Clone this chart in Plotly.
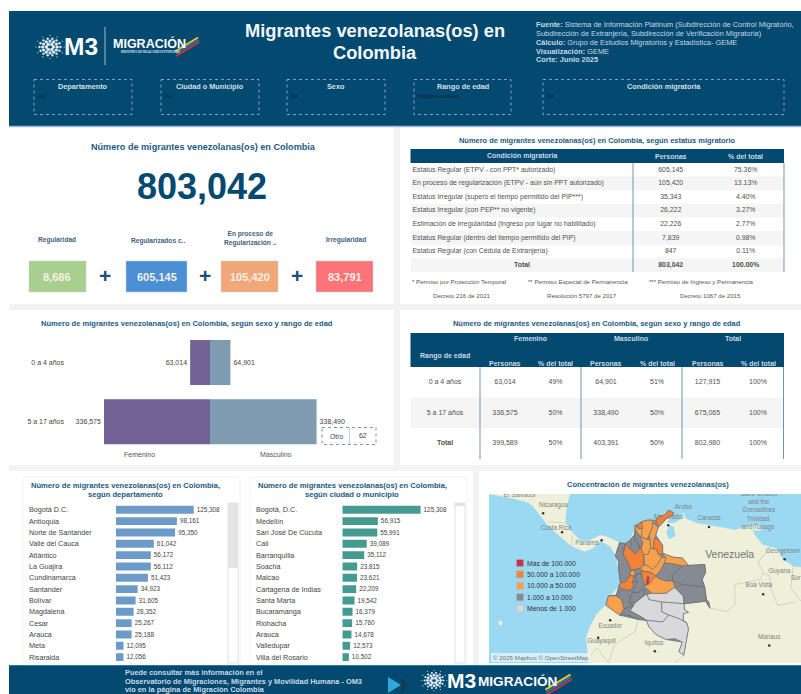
import math
import plotly.graph_objects as go

W, H = 801, 694
FONT = "Liberation Sans"
NAVY = "#04496f"
TITLE = "#1c5a80"
GUT = "#f3f3f3"

# ---------- data ----------
kpi_total = "803,042"
kpi_labels = ["Regularidad", "Regularizados c..", "En proceso de<br>Regularización ..", "Irregularidad"]
kpi_values = ["8,686", "605,145", "105,420", "83,791"]
kpi_colors = ["#a9cf8f", "#4b8fd5", "#f2a778", "#fc7479"]

status_header = ["Condición migratoria", "Personas", "% del total"]
status_names = ["Estatus Regular (ETPV - con PPT* autorizado)",
                "En proceso de regularización (ETPV - aún sin PPT autorizado)",
                "Estatus Irregular (superó el tiempo permitido del PIP***)",
                "Estatus Irregular (con PEP** no vigente)",
                "Estimación de irregularidad (Ingreso por lugar no habilitado)",
                "Estatus Regular (dentro del tiempo permitido del PIP)",
                "Estatus Regular (con Cédula de Extranjería)",
                "Total"]
status_people = ["605,145", "105,420", "35,343", "26,222", "22,226", "7,839", "847", "<b>803,042</b>"]
status_share = ["75.36%", "13.13%", "4.40%", "3.27%", "2.77%", "0.98%", "0.11%", "<b>100.00%</b>"]

age_groups = ["0 a 4 años", "5 a 17 años"]
female = [63014, 336575]
male = [64901, 338490]
other = 62

sex_rows = ["0 a 4 años", "5 a 17 años", "Total"]
sex_f_n = ["63,014", "336,575", "399,589"]
sex_f_p = ["49%", "50%", "50%"]
sex_m_n = ["64,901", "338,490", "403,391"]
sex_m_p = ["51%", "50%", "50%"]
sex_t_n = ["127,915", "675,065", "802,980"]
sex_t_p = ["100%", "100%", "100%"]
sex_sub_header = ["Personas", "% del total"]

dept_names = ["Bogotá D.C.", "Antioquia", "Norte de Santander", "Valle del Cauca", "Atlántico", "La Guajira",
              "Cundinamarca", "Santander", "Bolívar", "Magdalena", "Cesar", "Arauca", "Meta", "Risaralda"]
dept_values = [125308, 98161, 95350, 61042, 56172, 56112, 51423, 34923, 31605, 28352, 25267, 25188, 12095, 12056]

city_names = ["Bogotá, D.C.", "Medellín", "San José De Cúcuta", "Cali", "Barranquilla", "Soacha", "Maicao",
              "Cartagena de Indias", "Santa Marta", "Bucaramanga", "Riohacha", "Arauca", "Valledupar", "Villa del Rosario"]
city_values = [125308, 56915, 55991, 39089, 35112, 23815, 23621, 22209, 19542, 16379, 15760, 14678, 12573, 10502]

legend_labels = ["Más de 100.000", "50.000 a 100.000", "10.000 a 50.000", "1.000 a 10.000", "Menos de 1.000"]
legend_colors = ["#c8304f", "#f0823a", "#f9a04c", "#868a93", "#d9d9dc"]

# department outlines (lon, lat), grouped by legend class
colombia_outline = [(-71.7, 12.45), (-71.1, 12.1), (-71.3, 11.8), (-71.9, 11.6), (-72.3, 11.1), (-72.9, 10.5), (-73.2, 9.6),
                    (-72.9, 9.1), (-72.4, 8.4), (-72.4, 7.5), (-72.1, 7.4), (-71.2, 7.05), (-70.1, 6.95), (-69.4, 6.1),
                    (-67.5, 6.2), (-67.4, 5.3), (-67.8, 4.5), (-67.5, 3.6), (-67.3, 2.2), (-66.9, 1.2), (-67.4, 2.0),
                    (-69.9, 1.7), (-69.9, 1.1), (-69.4, 0.7), (-70.0, 0.6), (-70.0, -0.2), (-69.6, -0.5), (-69.4, -1.2),
                    (-69.95, -4.2), (-70.5, -3.8), (-70.1, -2.7), (-72.0, -2.4), (-73.2, -1.8), (-74.0, -0.9), (-74.3, -0.2),
                    (-75.2, -0.1), (-77.4, 0.4), (-77.9, 0.8), (-78.8, 1.4), (-79.0, 1.6), (-78.7, 2.6), (-77.8, 2.7),
                    (-77.5, 3.7), (-77.3, 4.1), (-77.5, 5.5), (-77.5, 6.5), (-77.9, 7.2), (-77.4, 8.7), (-76.8, 8.6),
                    (-76.2, 9.0), (-75.7, 9.6), (-75.6, 10.7), (-75.3, 10.8), (-74.85, 11.1), (-74.2, 11.3), (-73.55, 11.3),
                    (-73.2, 11.3), (-72.8, 11.7), (-72.2, 11.9)]
class_0 = {"Bogotá": [(-74.2, 4.8), (-74.0, 4.8), (-74.0, 4.1), (-74.3, 3.8)]}
class_1 = {
    "La Guajira": [(-71.7, 12.45), (-71.1, 12.1), (-71.3, 11.8), (-71.9, 11.6), (-72.3, 11.1), (-72.9, 10.5),
                   (-73.1, 11.1), (-73.2, 11.3), (-72.8, 11.7), (-72.2, 11.9)],
    "Atlántico": [(-75.3, 10.8), (-74.85, 11.1), (-74.75, 10.4), (-75.2, 10.3)],
    "Antioquia": [(-76.8, 8.6), (-76.2, 8.0), (-75.6, 7.4), (-75.1, 8.0), (-74.9, 8.0), (-74.6, 7.3), (-74.6, 6.1),
                  (-75.0, 5.8), (-75.7, 5.6), (-76.1, 5.6), (-76.4, 6.4), (-77.0, 7.4), (-76.8, 8.0)],
    "Norte de Santander": [(-73.4, 9.2), (-72.9, 9.1), (-72.4, 8.4), (-72.4, 7.5), (-72.5, 7.3), (-72.9, 7.4),
                           (-73.1, 8.0), (-73.5, 8.0), (-73.4, 8.9)],
    "Cundinamarca": [(-74.9, 5.4), (-74.1, 5.4), (-73.6, 5.2), (-73.2, 4.9), (-74.0, 3.9), (-74.5, 3.9), (-74.7, 4.4)],
    "Valle": [(-77.3, 4.1), (-76.7, 4.2), (-76.2, 5.0), (-75.7, 4.8), (-75.9, 4.2), (-75.8, 3.7), (-76.2, 3.2),
              (-77.0, 3.4), (-77.5, 3.7)],
}
class_2 = {
    "Magdalena": [(-74.85, 11.1), (-74.2, 11.3), (-73.55, 11.3), (-73.6, 10.4), (-73.95, 9.6), (-74.2, 9.1),
                  (-74.9, 9.4), (-74.8, 10.3)],
    "Cesar": [(-73.6, 11.0), (-72.9, 10.5), (-73.2, 9.6), (-73.4, 8.9), (-73.5, 8.0), (-73.8, 8.1), (-73.85, 9.0),
              (-73.95, 9.6), (-73.6, 10.4)],
    "Bolívar": [(-75.6, 10.7), (-75.2, 10.3), (-74.75, 10.4), (-74.9, 9.4), (-74.3, 9.1), (-73.85, 9.0), (-73.8, 8.1),
                (-74.1, 7.4), (-74.6, 7.3), (-74.9, 8.0), (-74.7, 8.8), (-75.0, 9.4), (-75.4, 9.9), (-75.6, 10.4)],
    "Santander": [(-73.5, 8.0), (-73.1, 8.0), (-72.9, 7.4), (-72.5, 7.0), (-73.0, 6.2), (-73.6, 5.6), (-74.0, 6.0),
                  (-74.5, 6.2), (-74.6, 7.3), (-74.1, 7.4), (-73.8, 8.1)],
    "Boyacá": [(-74.6, 6.1), (-74.5, 6.2), (-74.0, 6.0), (-73.6, 5.6), (-73.0, 6.2), (-72.5, 7.0), (-72.0, 7.0), (-72.2, 6.4),
               (-72.7, 5.5), (-73.2, 4.9), (-73.6, 5.2), (-74.1, 5.4), (-74.9, 5.4), (-74.7, 5.5), (-75.0, 5.8)],
    "Arauca": [(-72.4, 7.4), (-72.0, 7.0), (-72.2, 6.4), (-71.2, 6.3), (-70.1, 6.05), (-69.4, 6.1), (-70.1, 6.95),
               (-71.2, 7.05), (-72.1, 7.4)],
    "Meta": [(-74.2, 4.4), (-73.2, 4.9), (-72.9, 4.6), (-72.0, 4.3), (-71.2, 4.3), (-71.0, 3.6), (-72.0, 2.9),
             (-73.6, 2.9), (-74.2, 3.4), (-74.5, 3.6)],
    "Nariño": [(-78.7, 2.6), (-79.0, 1.6), (-78.8, 1.4), (-77.9, 0.8), (-77.4, 0.4), (-76.9, 1.1), (-77.2, 2.2), (-77.8, 2.6)],
    "Risaralda": [(-76.2, 5.4), (-75.7, 5.6), (-75.6, 5.0), (-75.9, 4.9), (-76.2, 5.0)],
}
class_3 = {
    "Sucre": [(-75.7, 9.6), (-75.4, 9.9), (-75.0, 9.4), (-74.7, 8.8), (-74.9, 8.0), (-75.1, 8.0), (-75.2, 8.5), (-75.6, 9.1)],
    "Córdoba": [(-76.2, 9.0), (-75.7, 9.5), (-75.6, 9.1), (-75.2, 8.5), (-75.1, 8.0), (-75.6, 7.4), (-76.2, 8.0), (-76.0, 8.6)],
    "Chocó": [(-77.4, 8.7), (-76.8, 8.6), (-77.0, 7.4), (-76.4, 6.4), (-76.1, 5.6), (-76.2, 5.0), (-76.7, 4.2),
              (-77.3, 4.1), (-77.5, 5.5), (-77.5, 6.5), (-77.9, 7.2)],
    "Caldas": [(-75.7, 5.6), (-75.0, 5.8), (-74.7, 5.5), (-74.9, 5.2), (-75.6, 5.0)],
    "Quindío": [(-75.9, 4.8), (-75.5, 4.8), (-75.4, 4.2), (-75.9, 4.2)],
    "Tolima": [(-75.9, 4.9), (-74.9, 5.2), (-74.7, 4.4), (-74.5, 3.9), (-75.2, 3.0), (-75.9, 3.0), (-75.6, 3.7),
               (-75.4, 4.2), (-75.5, 4.8)],
    "Huila": [(-75.9, 3.0), (-75.2, 3.0), (-74.5, 3.4), (-74.6, 2.6), (-75.5, 1.9), (-76.3, 1.8), (-76.2, 2.4)],
    "Cauca": [(-77.8, 2.7), (-77.0, 3.4), (-76.2, 3.2), (-75.9, 3.0), (-76.2, 2.4), (-76.3, 1.8), (-75.8, 1.5),
              (-76.9, 1.1), (-77.2, 2.2)],
    "Putumayo": [(-77.4, 0.4), (-76.9, 1.1), (-75.8, 1.5), (-76.2, 0.9), (-74.9, 0.2), (-74.3, -0.2), (-75.2, -0.1), (-76.4, 0.4)],
    "Casanare": [(-72.2, 6.4), (-72.7, 5.5), (-73.2, 4.9), (-72.9, 4.6), (-72.0, 4.3), (-71.2, 4.3), (-71.3, 5.0), (-70.1, 6.05), (-71.2, 6.3)],
    "Vichada": [(-69.4, 6.1), (-67.5, 6.2), (-67.4, 5.3), (-67.8, 4.5), (-67.5, 3.6), (-68.5, 3.7), (-69.9, 3.9),
                (-71.2, 4.3), (-71.3, 5.0), (-70.1, 6.05)],
    "Guainía": [(-71.0, 3.6), (-69.9, 3.9), (-68.5, 3.7), (-67.5, 3.6), (-67.3, 2.2), (-67.0, 1.9), (-66.9, 1.2),
                (-67.4, 2.0), (-69.9, 1.7), (-70.0, 2.6)],
}
class_4 = {
    "Caquetá": [(-75.8, 1.5), (-75.5, 1.9), (-74.6, 2.6), (-74.2, 2.8), (-74.0, 2.2), (-72.5, 1.9), (-72.5, 0.8),
                (-71.7, 0.4), (-72.4, -0.4), (-74.3, -0.2), (-74.9, 0.2), (-76.2, 0.9)],
    "Guaviare": [(-74.2, 2.8), (-73.6, 2.9), (-72.0, 2.9), (-71.0, 3.6), (-70.0, 2.6), (-69.9, 1.7), (-72.5, 1.9), (-74.0, 2.2)],
    "Vaupés": [(-72.5, 1.9), (-69.9, 1.7), (-69.9, 1.1), (-69.4, 0.7), (-70.0, 0.6), (-70.0, -0.2), (-69.6, -0.5),
               (-70.5, 0.0), (-71.7, 0.4), (-72.5, 0.8)],
    "Amazonas": [(-74.3, -0.2), (-72.4, -0.4), (-71.7, 0.4), (-70.5, 0.0), (-69.6, -0.5), (-69.4, -1.2), (-69.95, -4.2),
                 (-70.5, -3.8), (-70.1, -2.7), (-71.0, -2.3), (-72.0, -2.4), (-73.2, -1.8), (-74.0, -0.9)],
}
map_classes = [class_4, class_3, class_2, class_1, class_0]
map_class_colors = ["#d9d9dc", "#868a93", "#f9a04c", "#f0823a", "#c8304f"]

land_outline = [(-92.6, 14.3), (-83.2, 14.3), (-83.6, 12.5), (-83.7, 11.0), (-83.0, 10.0), (-82.0, 9.0), (-81.0, 8.9),
                (-79.7, 9.6), (-78.8, 9.4), (-77.4, 8.7), (-76.8, 8.0), (-76.2, 9.0), (-75.6, 10.4), (-74.85, 11.1),
                (-74.2, 11.3), (-73.0, 11.4), (-71.7, 12.45), (-71.3, 11.8), (-71.9, 11.0), (-71.0, 11.0), (-70.3, 11.4),
                (-70.0, 12.2), (-69.7, 11.5), (-68.3, 10.9), (-66.2, 10.6), (-64.0, 10.2), (-62.0, 10.7), (-61.8, 9.8),
                (-60.8, 8.5), (-59.0, 8.0), (-58.4, 6.8), (-57.2, 6.0), (-56.3, 5.9), (-56.3, -5.1), (-81.0, -5.1),
                (-81.3, -2.2), (-80.9, -1.0), (-80.1, 0.5), (-79.0, 1.6), (-78.5, 2.6), (-77.3, 3.9), (-77.5, 5.5),
                (-77.9, 7.2), (-78.4, 8.2), (-79.6, 8.9), (-80.6, 8.0), (-81.5, 7.7), (-83.0, 8.3), (-85.0, 10.0),
                (-86.0, 11.0), (-87.5, 12.9), (-88.0, 13.3), (-90.0, 13.8), (-92.6, 14.3)]
lake_maracaibo = [(-71.6, 10.7), (-71.1, 10.5), (-70.9, 9.5), (-71.6, 9.1), (-72.0, 9.8)]
galapagos = [(-91.4, -0.2), (-91.0, -0.4), (-91.2, -0.9), (-91.5, -0.6)]
trinidad = [(-61.7, 10.75), (-61.0, 10.8), (-61.0, 10.1), (-61.8, 10.1)]
borders = [[(-71.3, 11.8), (-72.4, 11.1)], [(-66.9, 1.2), (-65.0, 0.8), (-64.0, 1.5), (-64.0, 3.9), (-61.0, 4.5), (-60.7, 5.2), (-61.3, 6.5), (-59.8, 8.2)],
           [(-60.7, 5.2), (-60.0, 5.0), (-59.8, 3.5), (-59.0, 1.5), (-57.0, 1.9)], [(-57.2, 6.0), (-57.5, 3.5), (-56.3, 2.0)],
           [(-79.0, 1.4), (-77.4, 0.4), (-75.2, -0.1), (-75.6, -1.5), (-78.0, -3.0), (-78.7, -5.1)],
           [(-69.95, -4.2), (-71.0, -5.1)], [(-81.0, -4.4), (-80.0, -3.4), (-78.7, -5.1)], [(-83.0, 8.3), (-82.9, 9.6)], [(-85.7, 11.1), (-83.7, 11.0)]]
map_place_names = ["Nicaragua", "Costa Rica", "Panamá", "Aruba", "Maracaibo", "Caracas", "Saint Vincent<br>and the<br>Grenadines",
                   "Trinidad<br>and Tobago", "Georgetown", "Guyana", "Sur", "Boa Vista", "Ecuador", "Guayaquil", "Iquitos", "Manaus", "El Salvador"]
map_place_lon = [-85.1, -84.8, -81.2, -70.0, -71.7, -67.0, -61.2, -61.3, -58.4, -58.8, -56.9, -61.2, -78.5, -79.5, -73.4, -60.0, -89.0]
map_place_lat = [12.96, 10.3, 8.6, 12.8, 11.6, 11.5, 13.3, 10.9, 7.75, 5.4, 4.6, 3.8, -0.9, -2.6, -2.9, -2.2, 14.1]
map_dot_lon = [-71.75, -67.0, -58.2, -60.7, -78.5, -79.9, -73.3, -60.0, -84.1, -79.5, -86.3]
map_dot_lat = [10.7, 10.5, 6.8, 2.8, -0.2, -2.2, -3.75, -3.1, 9.9, 9.0, 12.1]

status_table_title = "Número de migrantes venezolanas(os) en Colombia, según estatus migratorio"
sex_title = "Número de migrantes venezolanas(os) en Colombia, según sexo y rango de edad"
source_lines = ["<b>Fuente:</b> Sistema de Información Platinum (Subdirección de Control Migratorio,",
                "Subdirección de Extranjería, Subdirección de Verificación Migratoria)",
                "<b>Cálculo:</b> Grupo de Estudios Migratorios y Estadística- GEME",
                "<b>Visualización:</b> GEME", "<b>Corte: Junio 2025</b>"]
filter_titles = ["Departamento", "Ciudad o Municipio", "Sexo", "Rango de edad", "Condición migratoria"]
filter_values = ["All", "All", "All", "Multiple values", "All"]
footer_lines = ["Puede consultar más información en el",
                "Observatorio de Migraciones, Migrantes y Movilidad Humana - OM3",
                "vío en la página de Migración Colombia"]

# ---------- pixel helpers ----------
px = lambda x: x / W
py = lambda y: 1 - y / H
shapes, annos = [], []


def rect(x0, y0, x1, y1, fill=None, line=None, lw=0, dash=None, layer="below"):
    shapes.append(dict(type="rect", xref="paper", yref="paper", x0=px(x0), x1=px(x1), y0=py(y0), y1=py(y1),
                       fillcolor=fill or "rgba(0,0,0,0)", layer=layer,
                       line=dict(color=line or "rgba(0,0,0,0)", width=lw, dash=dash or "solid")))


def seg(x0, y0, x1, y1, color, lw=1, layer="above"):
    shapes.append(dict(type="line", xref="paper", yref="paper", x0=px(x0), x1=px(x1), y0=py(y0), y1=py(y1),
                       layer=layer, line=dict(color=color, width=lw)))


def txt(x, y, s, size=7, color="#444444", anchor="center", align=None, family=FONT):
    if anchor == "left":
        x -= 2
    annos.append(dict(xref="paper", yref="paper", x=px(x), y=py(y), text=s, showarrow=False, xanchor=anchor,
                      yanchor="middle", align=align or anchor, font=dict(family=family, size=size, color=color)))


def logo(x, y, k, word_x, word_y, word_size, m3_size):
    # dotted globe + M3 + MIGRACIÓN wordmark
    for r, n, d in [(0.35, 6, 1.8), (0.7, 12, 1.6), (1.0, 14, 1.2), (1.35, 12, 0.6)]:
        for i in range(n):
            a = 2 * math.pi * i / n
            cx, cy = x + 10.5 * k * r * math.cos(a), y + 8.5 * k * r * math.sin(a)
            shapes.append(dict(type="circle", xref="paper", yref="paper", x0=px(cx - d * k), x1=px(cx + d * k),
                               y0=py(cy - d * k), y1=py(cy + d * k), fillcolor="#dce8f0", line=dict(width=0), layer="above"))
    txt(x + 31 * k, y, "<b>M3</b>", m3_size, "#ffffff")
    txt(word_x, word_y, "<b>MIGRACIÓN</b>", word_size, "#ffffff", anchor="left")
    wk = word_size / 12.5
    sx = word_x + 62 * wk
    for off, col in [(0, "#f2d21c"), (2.2, "#2d6fc0"), (4.4, "#d8322c")]:
        shapes.append(dict(type="line", xref="paper", yref="paper", layer="above",
                           x0=px(sx + off * wk * 0.3), x1=px(sx + 23 * wk + off * wk * 0.3),
                           y0=py(word_y + 8 * wk + off * wk), y1=py(word_y - 6 * wk + off * wk),
                           line=dict(color=col, width=1.8 * wk)))


# ---------- page structure ----------
rect(9, 127, 801, 666, GUT)
rect(9, 127, 394, 304, "#ffffff")
rect(400, 127, 801, 304, "#ffffff")
rect(9, 310, 394, 465, "#ffffff")
rect(400, 310, 801, 465, "#ffffff")
rect(9, 471, 473, 666, "#ffffff")
rect(479, 471, 801, 666, "#ffffff")
rect(23, 477, 240, 666, "#ffffff", "#f3f3f3", 1)
rect(250, 477, 467, 666, "#ffffff", "#f3f3f3", 1)
rect(9, 11, 801, 126, NAVY)
seg(9, 126.5, 801, 126.5, "#9dbdd6", 1.5, "below")
rect(9, 666, 801, 694, NAVY)
seg(9, 665.5, 801, 665.5, "#2f77a6", 1, "below")

# header
logo(50, 47, 1.0, 113, 43.5, 12.5, 24.5)
seg(105, 27, 105, 65, "#9fbcd0", 1)
txt(150, 52, "<b>MINISTERIO DE RELACIONES EXTERIORES</b>", 2.8, "#cfdde8")
txt(375, 30.5, "<b>Migrantes venezolanas(os) en</b>", 18.3, "#f2f6f9")
txt(375, 52.5, "<b>Colombia</b>", 18.3, "#f2f6f9")
for i, s in enumerate(source_lines):
    txt(536, 25 + i * 8.7, s, 7.4, "#c6d9e6", anchor="left")
filter_x = [(34, 132), (161, 259), (287, 385), (414, 511), (543, 784)]
for (x0, x1), t, v in zip(filter_x, filter_titles, filter_values):
    rect(x0, 79.5, x1, 114.5, None, "#9cbcd4", 0.8, "dot", "above")
    txt((x0 + x1) / 2, 87, f"<b>{t}</b>", 7.3, "#d3e0ea")
    txt(x0 + 4, 95.5, v, 6.2, "#0b2435", anchor="left")

# KPI panel
txt(203, 146.5, "<b>Número de migrantes venezolanas(os) en Colombia</b>", 9.1, TITLE)
txt(202, 187, f"<b>{kpi_total}</b>", 36, NAVY)
kpi_boxes = [(29, 86), (126, 187), (221, 278), (316, 373)]
kpi_label_y = [240, 241, 238.5, 239.5]
for (x0, x1), l, v, c, yy in zip(kpi_boxes, kpi_labels, kpi_values, kpi_colors, kpi_label_y):
    rect(x0, 261, x1, 292, c, "#c4d0d8", 0.5)
    txt((x0 + x1) / 2 + (1 if x0 > 29 else 0), yy, f"<b>{l}</b>", 6.6, "#3f6380")
    txt((x0 + x1) / 2, 276.5, f"<b>{v}</b>", 11, "#f5efe6")
for x in (105, 205, 297):
    txt(x, 275.5, "<b>+</b>", 21, "#1d4f78")

# right panel text
txt(597, 140, f"<b>{status_table_title}</b>", 7.45, TITLE)
rect(410.5, 149, 784, 163, NAVY)
for x, s in zip((522, 670.7, 745.7), status_header):
    txt(x, 156.3, f"<b>{s}</b>", 7, "#c9dbe8")
for x, a, s in [(412, "left", "* Permiso por Protección Temporal"), (528, "left", "** Permiso Especial de Permanencia"),
                (649, "left", "*** Permiso de Ingreso y Permanencia"), (462, "center", "Decreto 216 de 2021"),
                (582, "center", "Resolución 5797 de 2017"), (710, "center", "Decreto 1067 de 2015")]:
    txt(x, 281.5 if a == "left" else 295.5, s, 6.1, "#555555", anchor=a)
for x in (633, 784):
    seg(x, 163, x, 272, "#6d94b0", 1)

# butterfly panel text
txt(187, 323.5, f"<b>{sex_title}</b>", 7.55, TITLE)
txt(139.5, 455, "Femenino", 7, "#555555")
txt(276, 455, "Masculino", 7, "#555555")
rect(322, 427.5, 376, 444.5, "#ffffff", "#5d87a8", 0.9, "dot", "above")
seg(349.5, 428, 349.5, 444, "#a9bfd0", 0.7)
txt(336, 436, "Otro", 6.8, "#444444")
txt(362.5, 435, f"{other}", 6.8, "#444444")

# right sex table text
txt(597, 323.5, f"<b>{sex_title}</b>", 7.45, TITLE)
rect(410.5, 333, 784, 367, NAVY)
for x, s in [(530, "Femenino"), (631, "Masculino"), (732.5, "Total")]:
    txt(x, 338.5, f"<b>{s}</b>", 7, "#c9dbe8")
txt(445, 355.5, "<b>Rango de edad</b>", 7, "#c9dbe8")
for x in (505, 606, 707.5):
    txt(x, 363.3, f"<b>{sex_sub_header[0]}</b>", 7, "#c9dbe8")
for x in (555.5, 657, 758):
    txt(x, 363.3, f"<b>{sex_sub_header[1]}</b>", 7, "#c9dbe8")
for x in (480, 581, 682, 783.5):
    seg(x, 367, x, 459, "#6d94b0", 1)

# bar panel titles
for cx, l2 in [(125, "según departamento"), (352, "según ciudad o municipio")]:
    txt(cx, 485, "<b>Número de migrantes venezolanas(os) en Colombia,</b>", 7.6, TITLE)
    txt(cx, 494, f"<b>{l2}</b>", 7.6, TITLE)
for x0, x1, th in [(228, 238, 568), (455, 465, 506)]:
    rect(x0, 503, x1, 663, "#ffffff", "#d8d8d8", 0.8)
    rect(x0, 503, x1, th, "#e4e4e4")
txt(648, 484.5, "<b>Concentración de migrantes venezolanas(os)</b>", 7.5, TITLE)

# footer
footer_y = [672.5, 681, 689.5]
for y, s in zip(footer_y, footer_lines):
    txt(125, y, f"<b>{s}</b>", 7.4, "#c7dae8", anchor="left")
shapes.append(dict(type="path", xref="paper", yref="paper", layer="above", fillcolor="#33a7dc", line=dict(width=0),
                   path=f"M {px(388)} {py(677)} L {px(401)} {py(685)} L {px(388)} {py(693)} Z"))
shapes.append(dict(type="path", xref="paper", yref="paper", layer="above", fillcolor="#123b56", line=dict(width=0),
                   path=f"M {px(401)} {py(677)} L {px(408)} {py(685)} L {px(401)} {py(693)} Z"))
logo(434, 680.5, 0.9, 478, 681, 13.6, 21)

# ---------- traces ----------
fig = go.Figure()


def dom_x(a, b):
    return [px(a), px(b)]


def dom_y(top, bottom):
    return [py(bottom), py(top)]


# butterfly
SC = 336575 / 106
ax1 = dict(domain=dom_x(66, 392), range=[(66 - 210) * SC, (392 - 210) * SC], visible=False, fixedrange=True)
ay1 = dict(domain=dom_y(333, 451.4), type="category", categoryorder="array", categoryarray=age_groups,
           autorange="reversed", ticks="", showline=False, showgrid=False, zeroline=False,
           tickfont=dict(family=FONT, size=7, color="#444444"), ticklabelstandoff=1, anchor="x")
fig.add_trace(go.Bar(y=age_groups, x=[-v for v in female], orientation="h", marker=dict(color="#736296", line=dict(width=0)), width=0.76,
                     text=[f"{v:,}" for v in female], textposition="outside", cliponaxis=False,
                     textfont=dict(family=FONT, size=7, color="#444444"), xaxis="x", yaxis="y"))
fig.add_trace(go.Bar(y=age_groups, x=male, orientation="h", marker=dict(color="#7f9bb2", line=dict(width=0)), width=0.76,
                     text=[f"{v:,}" for v in male], textposition="outside", cliponaxis=False,
                     textfont=dict(family=FONT, size=7, color="#444444"), xaxis="x", yaxis="y"))


def hbars(xa, ya, names, values, color, x0, x1, sc, label_x):
    fig.add_trace(go.Bar(y=names, x=values, orientation="h", marker=dict(color=color, line=dict(width=0)), width=0.7,
                         text=[f"{v:,}" for v in values], textposition="outside", cliponaxis=False,
                         textfont=dict(family=FONT, size=7.2, color="#444444"), xaxis=xa, yaxis=ya))
    for n in names:
        annos.append(dict(xref="paper", yref=ya, x=px(label_x), y=n, text=n, showarrow=False, xanchor="left",
                          yanchor="middle", font=dict(family=FONT, size=7.2, color="#444444")))
    return (dict(domain=dom_x(x0, x1), range=[0, (x1 - x0) * sc], visible=False, fixedrange=True),
            dict(domain=dom_y(503.3, 663.6), type="category", categoryorder="array", categoryarray=names,
                 autorange="reversed", visible=False, fixedrange=True))


ax2, ay2 = hbars("x2", "y2", dept_names, dept_values, "#6d9bc9", 116, 228, 125308 / 77.7, 27)
ax3, ay3 = hbars("x3", "y3", city_names, city_values, "#459a91", 342.3, 455, 125308 / 78.3, 254)
ax2["anchor"] = "y2"; ay2["anchor"] = "x2"; ax3["anchor"] = "y3"; ay3["anchor"] = "x3"

# map
ax4 = dict(domain=dom_x(489, 801), range=[-92.6, -56.3], visible=False, fixedrange=True, anchor="y4")
ay4 = dict(domain=dom_y(494, 663), range=[-5.1, 14.3], visible=False, fixedrange=True, anchor="x4")
rect(489, 494, 801, 663, "#9bd8f1")


def poly(points, fill, line="rgba(0,0,0,0)", lw=0):
    fig.add_trace(go.Scatter(x=[p[0] for p in points] + [points[0][0]], y=[p[1] for p in points] + [points[0][1]],
                             mode="lines", fill="toself", fillcolor=fill, line=dict(color=line, width=lw),
                             hoverinfo="skip", xaxis="x4", yaxis="y4"))


poly(land_outline, "#eef0d9")
poly(galapagos, "#eef0d9")
poly(trinidad, "#eef0d9")
poly(lake_maracaibo, "#9bd8f1")
for b in borders:
    fig.add_trace(go.Scatter(x=[p[0] for p in b], y=[p[1] for p in b], mode="lines", line=dict(color="#d5d2c2", width=1),
                             hoverinfo="skip", xaxis="x4", yaxis="y4"))
fig.add_trace(go.Scatter(x=map_dot_lon, y=map_dot_lat, mode="markers", marker=dict(size=2.5, color="#333333"),
                         hoverinfo="skip", xaxis="x4", yaxis="y4"))
fig.add_trace(go.Scatter(x=map_place_lon, y=map_place_lat, mode="text", text=map_place_names,
                         textfont=dict(family=FONT, size=6.3, color="#7b8486"), hoverinfo="skip", xaxis="x4", yaxis="y4"))
poly(colombia_outline, "#868a93", "#656a72", 0.7)
for cl, col in zip(map_classes, map_class_colors):
    for name, pts in cl.items():
        poly(pts, col, "#656a72", 0.6)
fig.add_trace(go.Scatter(x=[-64.6], y=[7.3], mode="text", text=["Venezuela"],
                         textfont=dict(family=FONT, size=10.5, color="#6e7778"), hoverinfo="skip", xaxis="x4", yaxis="y4"))
# map legend
for i, (l, c) in enumerate(zip(legend_labels, legend_colors)):
    y = 563 + i * 11.4
    rect(516.5, y - 3.5, 523.5, y + 3.5, c, "#b5b5b5", 0.4, None, "above")
    txt(527, y, l, 6.8, "#333333", anchor="left")
rect(491, 653, 590, 662, "rgba(255,255,255,0.6)", None, 0, None, "above")
txt(492.5, 657.5, "© 2025 Mapbox © OpenStreetMap", 6.2, "#6b7478", anchor="left")


# tables: rows on a category axis, columns at positions along a hidden pixel-span axis
def table_col(xa, ya, rows, values, col_x, pos="middle center", size=6.9):
    fig.add_trace(go.Scatter(x=[col_x] * len(rows), y=rows, text=values, mode="text", textposition=pos,
                             textfont=dict(family=FONT, size=size, color="#505050"), hoverinfo="skip",
                             cliponaxis=False, xaxis=xa, yaxis=ya))


def table_axes(xa, ya, rows, x0, x1, top, bottom):
    xd = dict(domain=dom_x(x0, x1), range=[x0, x1], visible=False, fixedrange=True, anchor=ya)
    yd = dict(domain=dom_y(top, bottom), type="category", categoryorder="array", categoryarray=rows,
              range=[len(rows) - 0.5, -0.5], visible=False, fixedrange=True, anchor=xa)
    return xd, yd


ax5, ay5 = table_axes("x5", "y5", status_names, 410.5, 784, 163, 272)
zebra5 = status_names[1::2]
fig.add_trace(go.Bar(y=zebra5, x=[784 - 410.5] * len(zebra5), base=410.5, orientation="h", width=1,
                     marker=dict(color="#f5f5f5", line=dict(width=0)), hoverinfo="skip", xaxis="x5", yaxis="y5"))
table_col("x5", "y5", status_names[:-1], status_names[:-1], 412.5, "middle right")
table_col("x5", "y5", status_names[-1:], ["<b>Total</b>"], 522)
table_col("x5", "y5", status_names, status_people, 670.7)
table_col("x5", "y5", status_names, status_share, 745.7)

ax6, ay6 = table_axes("x6", "y6", sex_rows, 410.5, 784, 367, 459)
fig.add_trace(go.Bar(y=[sex_rows[1]], x=[784 - 410.5], base=410.5, orientation="h", width=1,
                     marker=dict(color="#f5f5f5", line=dict(width=0)), hoverinfo="skip", xaxis="x6", yaxis="y6"))
table_col("x6", "y6", sex_rows, ["0 a 4 años", "5 a 17 años", "<b>Total</b>"], 445, size=7)
for col_x, vals in zip((505, 555.5, 606, 657, 707.5, 758),
                       (sex_f_n, sex_f_p, sex_m_n, sex_m_p, sex_t_n, sex_t_p)):
    table_col("x6", "y6", sex_rows, vals, col_x, size=7)

fig.update_layout(
    width=W, height=H, autosize=False, margin=dict(l=0, r=0, t=0, b=0), showlegend=False,
    paper_bgcolor="#ffffff", plot_bgcolor="rgba(0,0,0,0)", barmode="overlay", hovermode=False,
    font=dict(family=FONT), xaxis=ax1, yaxis=ay1, xaxis2=ax2, yaxis2=ay2, xaxis3=ax3, yaxis3=ay3,
    xaxis4=ax4, yaxis4=ay4, xaxis5=ax5, yaxis5=ay5, xaxis6=ax6, yaxis6=ay6, shapes=shapes, annotations=annos)
fig.write_html("out.html", config=dict(displayModeBar=False, responsive=False),
               post_script="document.body.style.margin='0';document.body.style.overflow='hidden';")
